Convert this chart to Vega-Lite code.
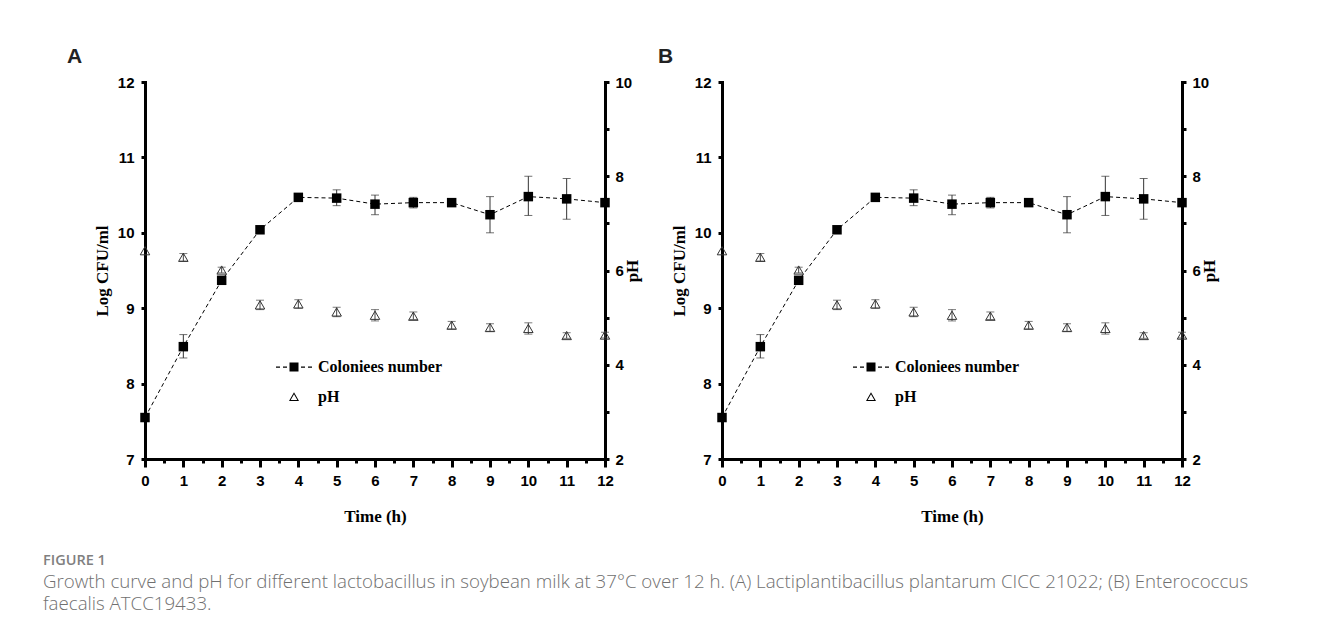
{
  "$schema": "https://vega.github.io/schema/vega-lite/v6.json",
  "background": "white",
  "padding": {"left": 43, "top": 46, "right": 5, "bottom": 20},
  "datasets": {
    "growth": [
      {"strain": "A", "t": 0, "cfu": 7.55, "cfuLo": null, "cfuHi": null, "ph": 6.42, "phLo": null, "phHi": null},
      {"strain": "A", "t": 1, "cfu": 8.49, "cfuLo": 8.34, "cfuHi": 8.65, "ph": 6.28, "phLo": 6.2, "phHi": 6.36},
      {"strain": "A", "t": 2, "cfu": 9.37, "cfuLo": null, "cfuHi": null, "ph": 6.01, "phLo": 5.95, "phHi": 6.07},
      {"strain": "A", "t": 3, "cfu": 10.04, "cfuLo": null, "cfuHi": null, "ph": 5.27, "phLo": 5.17, "phHi": 5.37},
      {"strain": "A", "t": 4, "cfu": 10.47, "cfuLo": null, "cfuHi": null, "ph": 5.29, "phLo": 5.2, "phHi": 5.38},
      {"strain": "A", "t": 5, "cfu": 10.46, "cfuLo": 10.36, "cfuHi": 10.57, "ph": 5.12, "phLo": 5.02, "phHi": 5.22},
      {"strain": "A", "t": 6, "cfu": 10.38, "cfuLo": 10.24, "cfuHi": 10.5, "ph": 5.05, "phLo": 4.93, "phHi": 5.17},
      {"strain": "A", "t": 7, "cfu": 10.4, "cfuLo": 10.33, "cfuHi": 10.47, "ph": 5.03, "phLo": 4.96, "phHi": 5.12},
      {"strain": "A", "t": 8, "cfu": 10.4, "cfuLo": null, "cfuHi": null, "ph": 4.84, "phLo": 4.76, "phHi": 4.92},
      {"strain": "A", "t": 9, "cfu": 10.24, "cfuLo": 10.0, "cfuHi": 10.48, "ph": 4.79, "phLo": 4.71, "phHi": 4.87},
      {"strain": "A", "t": 10, "cfu": 10.48, "cfuLo": 10.23, "cfuHi": 10.75, "ph": 4.77, "phLo": 4.65, "phHi": 4.89},
      {"strain": "A", "t": 11, "cfu": 10.45, "cfuLo": 10.18, "cfuHi": 10.72, "ph": 4.62, "phLo": 4.56, "phHi": 4.68},
      {"strain": "A", "t": 12, "cfu": 10.4, "cfuLo": null, "cfuHi": null, "ph": 4.63, "phLo": 4.57, "phHi": 4.69},
      {"strain": "B", "t": 0, "cfu": 7.55, "cfuLo": null, "cfuHi": null, "ph": 6.42, "phLo": null, "phHi": null},
      {"strain": "B", "t": 1, "cfu": 8.49, "cfuLo": 8.34, "cfuHi": 8.65, "ph": 6.28, "phLo": 6.2, "phHi": 6.36},
      {"strain": "B", "t": 2, "cfu": 9.37, "cfuLo": null, "cfuHi": null, "ph": 6.01, "phLo": 5.95, "phHi": 6.07},
      {"strain": "B", "t": 3, "cfu": 10.04, "cfuLo": null, "cfuHi": null, "ph": 5.27, "phLo": 5.17, "phHi": 5.37},
      {"strain": "B", "t": 4, "cfu": 10.47, "cfuLo": null, "cfuHi": null, "ph": 5.29, "phLo": 5.2, "phHi": 5.38},
      {"strain": "B", "t": 5, "cfu": 10.46, "cfuLo": 10.36, "cfuHi": 10.57, "ph": 5.12, "phLo": 5.02, "phHi": 5.22},
      {"strain": "B", "t": 6, "cfu": 10.38, "cfuLo": 10.24, "cfuHi": 10.5, "ph": 5.05, "phLo": 4.93, "phHi": 5.17},
      {"strain": "B", "t": 7, "cfu": 10.4, "cfuLo": 10.33, "cfuHi": 10.47, "ph": 5.03, "phLo": 4.96, "phHi": 5.12},
      {"strain": "B", "t": 8, "cfu": 10.4, "cfuLo": null, "cfuHi": null, "ph": 4.84, "phLo": 4.76, "phHi": 4.92},
      {"strain": "B", "t": 9, "cfu": 10.24, "cfuLo": 10.0, "cfuHi": 10.48, "ph": 4.79, "phLo": 4.71, "phHi": 4.87},
      {"strain": "B", "t": 10, "cfu": 10.48, "cfuLo": 10.23, "cfuHi": 10.75, "ph": 4.77, "phLo": 4.65, "phHi": 4.89},
      {"strain": "B", "t": 11, "cfu": 10.45, "cfuLo": 10.18, "cfuHi": 10.72, "ph": 4.62, "phLo": 4.56, "phHi": 4.68},
      {"strain": "B", "t": 12, "cfu": 10.4, "cfuLo": null, "cfuHi": null, "ph": 4.63, "phLo": 4.57, "phHi": 4.69}
    ]
  },
  "title": {
    "text": "FIGURE 1",
    "subtitle": [
      "Growth curve and pH for different lactobacillus in soybean milk at 37°C over 12 h. (A) Lactiplantibacillus plantarum CICC 21022; (B) Enterococcus",
      "faecalis ATCC19433."
    ],
    "orient": "bottom",
    "anchor": "start",
    "frame": "group",
    "offset": 30,
    "dx": -102,
    "font": "Open Sans",
    "fontSize": 14.5,
    "fontWeight": 600,
    "color": "#808080",
    "subtitleFont": "Open Sans",
    "subtitleFontSize": 18.7,
    "subtitleFontWeight": 300,
    "subtitleColor": "#707070",
    "subtitleLineHeight": 22.5,
    "subtitlePadding": 4
  },
  "spacing": 17,
  "resolve": {
    "scale": {"x": "independent", "y": "independent", "shape": "independent"},
    "legend": {"shape": "independent"}
  },
  "hconcat": [
    {
      "title": {"text": "A", "anchor": "start", "frame": "group", "dx": -78, "offset": 8},
      "width": 460,
      "height": 377,
      "data": {"name": "growth"},
      "transform": [{"filter": "datum.strain === 'A'"}],
      "resolve": {"scale": {"x": "independent", "y": "independent"}},
      "layer": [
        {
          "encoding": {
            "x": {"field": "t", "type": "quantitative", "scale": {"domain": [0, 12], "nice": false},
              "axis": {"title": "Time (h)", "values": [0,1,2,3,4,5,6,7,8,9,10,11,12], "tickCount": 13, "format": "d", "labelOverlap": false, "labelSeparation": -40, "labelFlush": false, "tickSize": 8, "labelPadding": 6, "titlePadding": 20}}
          },
          "layer": [
            {
              "mark": {"type": "line", "color": "black", "strokeWidth": 1, "strokeDash": [4, 3]},
              "encoding": {
                "y": {"field": "cfu", "type": "quantitative", "scale": {"domain": [7, 12], "nice": false, "zero": false},
                  "axis": {"title": "Log CFU/ml", "format": "d", "values": [7,7.5,8,8.5,9,9.5,10,10.5,11,11.5,12], "labelExpr": "datum.value % 1 === 0 ? datum.label : ''", "labelOverlap": false, "labelPadding": 7, "titlePadding": 6, "labelFlush": false}}
              }
            },
            {
              "mark": {"type": "rule", "color": "#333", "strokeWidth": 1},
              "encoding": {
                "y": {"field": "cfuLo", "type": "quantitative"},
                "y2": {"field": "cfuHi"}
              }
            },
            {
              "mark": {"type": "tick", "orient": "horizontal", "color": "#333", "size": 8, "thickness": 1},
              "encoding": {
                "y": {"field": "cfuLo", "type": "quantitative"}
              }
            },
            {
              "mark": {"type": "tick", "orient": "horizontal", "color": "#333", "size": 8, "thickness": 1},
              "encoding": {
                "y": {"field": "cfuHi", "type": "quantitative"}
              }
            },
            {
              "mark": {"type": "point", "shape": "square", "filled": true, "color": "black", "size": 90, "opacity": 1},
              "encoding": {
                "y": {"field": "cfu", "type": "quantitative"}
              }
            },
            {
              "mark": {"type": "point", "filled": true, "color": "black", "opacity": 0},
              "encoding": {
                "y": {"field": "cfu", "type": "quantitative"},
                "shape": {
                  "datum": "Coloniees number",
                  "scale": {"domain": ["Coloniees number", "pH"], "range": [
                    "M-0.72,-0.025h0.16v0.05h-0.16zM-0.44,-0.025h0.16v0.05h-0.16zM-0.18,-0.18h0.36v0.36h-0.36zM0.28,-0.025h0.16v0.05h-0.16zM0.56,-0.025h0.16v0.05h-0.16z",
                    "M0,-0.19L0.2,0.16L-0.2,0.16ZM0,-0.11L-0.131,0.12L0.131,0.12Z"
                  ]},
                  "legend": {
                    "orient": "none", "legendX": 123, "legendY": 271, "title": null,
                    "symbolSize": 2500, "clipHeight": 28, "rowPadding": 2, "labelOffset": -2, "padding": 0,
                    "symbolFillColor": "black", "symbolStrokeColor": "transparent", "symbolOpacity": 1,
                    "labelFont": "Liberation Serif", "labelFontSize": 16, "labelFontWeight": "bold", "labelColor": "black"
                  }
                }
              }
            }
          ]
        },
        {
          "encoding": {
            "x": {"field": "t", "type": "quantitative", "scale": {"domain": [0, 12], "nice": false},
              "axis": {"orient": "bottom", "title": null, "values": [0,0.5,1,1.5,2,2.5,3,3.5,4,4.5,5,5.5,6,6.5,7,7.5,8,8.5,9,9.5,10,10.5,11,11.5,12], "labels": false, "domain": false, "tickSize": 4}}
          },
          "layer": [
            {
              "mark": {"type": "rule", "color": "#444", "strokeWidth": 1},
              "encoding": {
                "y": {"field": "phLo", "type": "quantitative", "scale": {"domain": [2, 10], "nice": false, "zero": false},
                  "axis": {"orient": "right", "title": "pH", "values": [2,3,4,5,6,7,8,9,10], "labelExpr": "datum.value % 2 === 0 ? datum.label : ''", "labelOverlap": false, "labelPadding": 6, "titlePadding": 10, "titleAngle": 270, "labelFlush": false}},
                "y2": {"field": "phHi"}
              }
            },
            {
              "mark": {"type": "tick", "orient": "horizontal", "color": "#444", "size": 8, "thickness": 1},
              "encoding": {
                "y": {"field": "phLo", "type": "quantitative"}
              }
            },
            {
              "mark": {"type": "tick", "orient": "horizontal", "color": "#444", "size": 8, "thickness": 1},
              "encoding": {
                "y": {"field": "phHi", "type": "quantitative"}
              }
            },
            {
              "mark": {"type": "point", "shape": "triangle-up", "filled": false, "stroke": "#333", "strokeWidth": 1, "size": 90, "opacity": 1},
              "encoding": {
                "y": {"field": "ph", "type": "quantitative"}
              }
            }
          ]
        }
      ]
    },
    {
      "title": {"text": "B", "anchor": "start", "frame": "group", "dx": -64, "offset": 8},
      "width": 460,
      "height": 377,
      "data": {"name": "growth"},
      "transform": [{"filter": "datum.strain === 'B'"}],
      "resolve": {"scale": {"x": "independent", "y": "independent"}},
      "layer": [
        {
          "encoding": {
            "x": {"field": "t", "type": "quantitative", "scale": {"domain": [0, 12], "nice": false},
              "axis": {"title": "Time (h)", "values": [0,1,2,3,4,5,6,7,8,9,10,11,12], "tickCount": 13, "format": "d", "labelOverlap": false, "labelSeparation": -40, "labelFlush": false, "tickSize": 8, "labelPadding": 6, "titlePadding": 20}}
          },
          "layer": [
            {
              "mark": {"type": "line", "color": "black", "strokeWidth": 1, "strokeDash": [4, 3]},
              "encoding": {
                "y": {"field": "cfu", "type": "quantitative", "scale": {"domain": [7, 12], "nice": false, "zero": false},
                  "axis": {"title": "Log CFU/ml", "format": "d", "values": [7,7.5,8,8.5,9,9.5,10,10.5,11,11.5,12], "labelExpr": "datum.value % 1 === 0 ? datum.label : ''", "labelOverlap": false, "labelPadding": 7, "titlePadding": 6, "labelFlush": false}}
              }
            },
            {
              "mark": {"type": "rule", "color": "#333", "strokeWidth": 1},
              "encoding": {
                "y": {"field": "cfuLo", "type": "quantitative"},
                "y2": {"field": "cfuHi"}
              }
            },
            {
              "mark": {"type": "tick", "orient": "horizontal", "color": "#333", "size": 8, "thickness": 1},
              "encoding": {
                "y": {"field": "cfuLo", "type": "quantitative"}
              }
            },
            {
              "mark": {"type": "tick", "orient": "horizontal", "color": "#333", "size": 8, "thickness": 1},
              "encoding": {
                "y": {"field": "cfuHi", "type": "quantitative"}
              }
            },
            {
              "mark": {"type": "point", "shape": "square", "filled": true, "color": "black", "size": 90, "opacity": 1},
              "encoding": {
                "y": {"field": "cfu", "type": "quantitative"}
              }
            },
            {
              "mark": {"type": "point", "filled": true, "color": "black", "opacity": 0},
              "encoding": {
                "y": {"field": "cfu", "type": "quantitative"},
                "shape": {
                  "datum": "Coloniees number",
                  "scale": {"domain": ["Coloniees number", "pH"], "range": [
                    "M-0.72,-0.025h0.16v0.05h-0.16zM-0.44,-0.025h0.16v0.05h-0.16zM-0.18,-0.18h0.36v0.36h-0.36zM0.28,-0.025h0.16v0.05h-0.16zM0.56,-0.025h0.16v0.05h-0.16z",
                    "M0,-0.19L0.2,0.16L-0.2,0.16ZM0,-0.11L-0.131,0.12L0.131,0.12Z"
                  ]},
                  "legend": {
                    "orient": "none", "legendX": 123, "legendY": 271, "title": null,
                    "symbolSize": 2500, "clipHeight": 28, "rowPadding": 2, "labelOffset": -2, "padding": 0,
                    "symbolFillColor": "black", "symbolStrokeColor": "transparent", "symbolOpacity": 1,
                    "labelFont": "Liberation Serif", "labelFontSize": 16, "labelFontWeight": "bold", "labelColor": "black"
                  }
                }
              }
            }
          ]
        },
        {
          "encoding": {
            "x": {"field": "t", "type": "quantitative", "scale": {"domain": [0, 12], "nice": false},
              "axis": {"orient": "bottom", "title": null, "values": [0,0.5,1,1.5,2,2.5,3,3.5,4,4.5,5,5.5,6,6.5,7,7.5,8,8.5,9,9.5,10,10.5,11,11.5,12], "labels": false, "domain": false, "tickSize": 4}}
          },
          "layer": [
            {
              "mark": {"type": "rule", "color": "#444", "strokeWidth": 1},
              "encoding": {
                "y": {"field": "phLo", "type": "quantitative", "scale": {"domain": [2, 10], "nice": false, "zero": false},
                  "axis": {"orient": "right", "title": "pH", "values": [2,3,4,5,6,7,8,9,10], "labelExpr": "datum.value % 2 === 0 ? datum.label : ''", "labelOverlap": false, "labelPadding": 6, "titlePadding": 10, "titleAngle": 270, "labelFlush": false}},
                "y2": {"field": "phHi"}
              }
            },
            {
              "mark": {"type": "tick", "orient": "horizontal", "color": "#444", "size": 8, "thickness": 1},
              "encoding": {
                "y": {"field": "phLo", "type": "quantitative"}
              }
            },
            {
              "mark": {"type": "tick", "orient": "horizontal", "color": "#444", "size": 8, "thickness": 1},
              "encoding": {
                "y": {"field": "phHi", "type": "quantitative"}
              }
            },
            {
              "mark": {"type": "point", "shape": "triangle-up", "filled": false, "stroke": "#333", "strokeWidth": 1, "size": 90, "opacity": 1},
              "encoding": {
                "y": {"field": "ph", "type": "quantitative"}
              }
            }
          ]
        }
      ]
    }
  ],
  "config": {
    "view": {"stroke": null},
    "title": {"font": "Liberation Sans", "fontSize": 21, "fontWeight": "bold", "color": "#222"},
    "axis": {
      "domainColor": "black", "domainWidth": 3, "domainCap": "square",
      "tickColor": "black", "tickWidth": 3, "tickSize": 4,
      "labelFont": "Liberation Sans", "labelFontSize": 15, "labelFontWeight": "bold", "labelColor": "black",
      "titleFont": "Liberation Serif", "titleFontSize": 17, "titleFontWeight": "bold", "titleColor": "black",
      "grid": false
    }
  }
}
